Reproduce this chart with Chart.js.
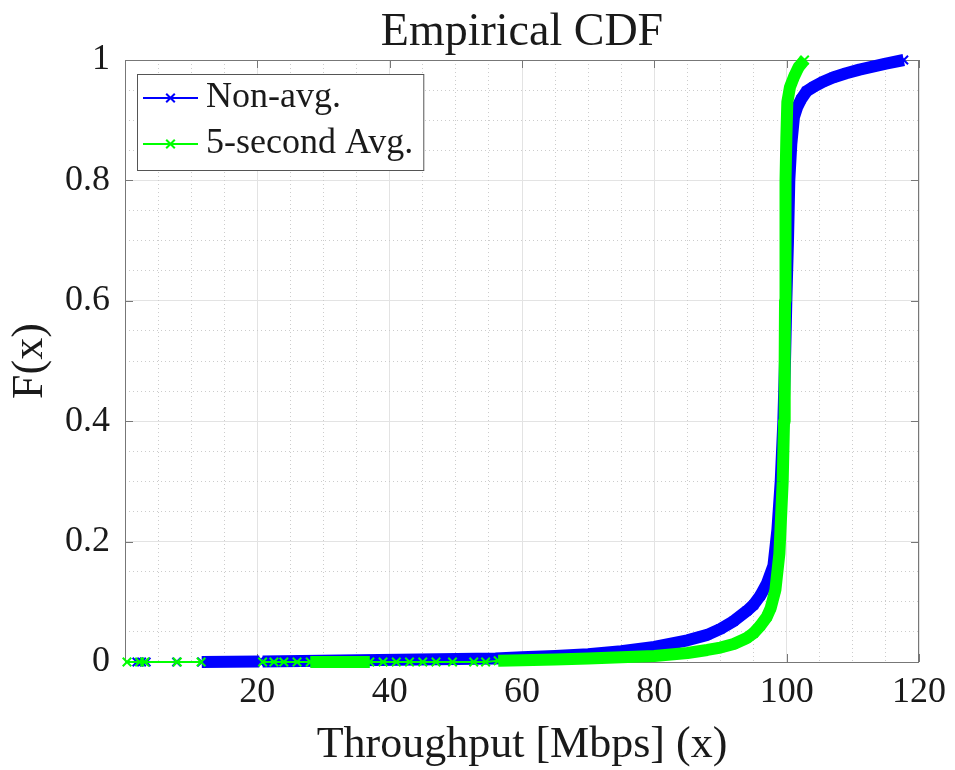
<!DOCTYPE html>
<html><head><meta charset="utf-8">
<script src="https://cdn.jsdelivr.net/npm/chart.js@4.4.1/dist/chart.umd.min.js"></script>
<style>html,body{margin:0;padding:0;background:#fff}canvas{display:block}</style>
</head><body>
<canvas id="c" width="955" height="770"></canvas>
<script>
// ---------- data ----------
const chartTitle = 'Empirical CDF';
const xAxisTitle = 'Throughput [Mbps] (x)';
const yAxisTitle = 'F(x)';
const seriesNames = ['Non-avg.', '5-second Avg.'];
const xTickValues = [20, 40, 60, 80, 100, 120];
const yTickValues = [0, 0.2, 0.4, 0.6, 0.8, 1];
const yTickLabels = ['0', '0.2', '0.4', '0.6', '0.8', '1'];

const nonAvgX = [1.8, 2.5, 3.2, 7.8, 11.6, 20.3, 20.8, 56, 60, 65, 70, 75, 80, 85, 88, 90, 92, 94, 95, 96, 97, 98, 98.6, 99.1, 99.5, 99.75, 99.95, 100.2, 100.4, 100.7, 101.1, 101.6, 102.2, 103, 104, 105.5, 107, 109, 111, 113, 115, 117.7];
const nonAvgY = [0, 0, 0, 0, 0, 0.001, 0.001, 0.006, 0.008, 0.01, 0.013, 0.018, 0.025, 0.036, 0.045, 0.055, 0.068, 0.085, 0.095, 0.11, 0.13, 0.16, 0.22, 0.3, 0.4, 0.5, 0.6, 0.7, 0.8, 0.86, 0.905, 0.922, 0.935, 0.948, 0.955, 0.964, 0.971, 0.978, 0.984, 0.989, 0.994, 1.0];
const nonAvgDenseRuns = [[11.6, 20.3], [20.8, 117.7]];
const nonAvgGaps = [];

const avgX = [0.3, 2.2, 3.0, 7.9, 11.5, 20.8, 22.5, 24, 26, 28, 37, 39, 41, 43, 45, 47, 49.5, 52.7, 54.5, 56.4, 60, 65, 70, 75, 80, 85, 88, 90, 92, 94, 95, 96, 97, 97.6, 98.3, 98.9, 99.4, 99.6, 99.7, 99.75, 99.8, 99.85, 99.95, 100.1, 100.5, 101.1, 101.8, 102.7];
const avgY = [0, 0, 0, 0, 0, 0, 0, 0, 0, 0, 0, 0, 0, 0, 0, 0, 0, 0, 0, 0.002, 0.003, 0.004, 0.006, 0.008, 0.01, 0.015, 0.02, 0.024, 0.03, 0.04, 0.048, 0.06, 0.075, 0.09, 0.12, 0.18, 0.3, 0.4, 0.5, 0.6, 0.7, 0.8, 0.87, 0.93, 0.955, 0.972, 0.988, 1.0];
const avgDenseRuns = [[28, 37], [56.4, 102.7]];
const avgGaps = [[11.5, 20.8]];

// ---------- style ----------
const FONT = "'Liberation Serif', 'Times New Roman', serif";
const BLUE = 'rgb(0,0,255)';
const GREEN = 'rgb(0,255,0)';
const BAND = 12, THIN = 2;
const AXIS_COLOR = '#777777';
const TEXT_COLOR = '#1a1a1a';

function toPoints(xs, ys) { return xs.map((x, i) => ({ x: x, y: ys[i] })); }
function inRuns(a, b, runs) { return runs.some(r => a >= r[0] - 1e-9 && b <= r[1] + 1e-9); }
function segStyle(dense, gaps, color) {
  return {
    borderWidth: c => inRuns(c.p0.parsed.x, c.p1.parsed.x, dense) ? BAND : THIN,
    borderColor: c => inRuns(c.p0.parsed.x, c.p1.parsed.x, gaps) ? 'rgba(0,0,0,0)' : color
  };
}

const bgPlugin = {
  id: 'bg',
  beforeDraw(chart) {
    const ctx = chart.ctx;
    ctx.save(); ctx.fillStyle = '#fff'; ctx.fillRect(0, 0, chart.width, chart.height); ctx.restore();
  }
};

const titlePlugin = {
  id: 'centeredTitle',
  afterDraw(chart) {
    const { ctx, chartArea: a } = chart;
    ctx.save();
    ctx.font = '46px ' + FONT;
    ctx.fillStyle = TEXT_COLOR;
    ctx.textAlign = 'center'; ctx.textBaseline = 'alphabetic';
    ctx.fillText(chartTitle, (a.left + a.right) / 2, 45);
    ctx.restore();
  }
};

const boxPlugin = {
  id: 'box',
  beforeDatasetsDraw(chart) {
    const { ctx, chartArea: a, scales } = chart;
    ctx.save();
    ctx.strokeStyle = AXIS_COLOR; ctx.lineWidth = 1;
    ctx.strokeRect(a.left + 0.5, a.top + 0.5, a.right - a.left - 1, a.bottom - a.top);
    const L = 8;
    ctx.beginPath();
    xTickValues.forEach(v => {
      const px = Math.round(scales.x.getPixelForValue(v)) + 0.5;
      ctx.moveTo(px, a.bottom); ctx.lineTo(px, a.bottom - L);
      ctx.moveTo(px, a.top); ctx.lineTo(px, a.top + L);
    });
    yTickValues.forEach(v => {
      const py = Math.round(scales.y.getPixelForValue(v)) + 0.5;
      ctx.moveTo(a.left, py); ctx.lineTo(a.left + L, py);
      ctx.moveTo(a.right, py); ctx.lineTo(a.right - L, py);
    });
    ctx.stroke();
    ctx.restore();
  }
};

const legendPlugin = {
  id: 'matlabLegend',
  afterDatasetsDraw(chart) {
    const { ctx, chartArea: a } = chart;
    ctx.save();
    ctx.font = '36px ' + FONT;
    const bx = a.left + 12, by = a.top + 14;
    const textX = bx + 69;
    const widths = seriesNames.map(n => ctx.measureText(n).width);
    const bw = 69 + Math.max(...widths) + 10;
    const bh = 96;
    ctx.fillStyle = '#fff';
    ctx.fillRect(bx, by, bw, bh);
    ctx.strokeStyle = '#555'; ctx.lineWidth = 1;
    ctx.strokeRect(bx + 0.5, by + 0.5, bw, bh);
    const colors = [BLUE, GREEN];
    const rows = [by + 24, by + 70];
    seriesNames.forEach((n, i) => {
      const y = rows[i];
      ctx.strokeStyle = colors[i]; ctx.lineWidth = 2;
      ctx.beginPath(); ctx.moveTo(bx + 6, y); ctx.lineTo(bx + 61, y); ctx.stroke();
      const cx = bx + 33.5, r = 4.3;
      ctx.beginPath();
      ctx.moveTo(cx - r, y - r); ctx.lineTo(cx + r, y + r);
      ctx.moveTo(cx - r, y + r); ctx.lineTo(cx + r, y - r);
      ctx.stroke();
      ctx.fillStyle = TEXT_COLOR;
      ctx.textBaseline = 'middle'; ctx.textAlign = 'left';
      ctx.fillText(n, textX, y);
    });
    ctx.restore();
  }
};

const minorX = []; for (let v = 5; v < 120; v += 5) if (v % 20 !== 0) minorX.push(v);
const minorY = []; for (let k = 1; k < 20; k++) if (k % 4 !== 0) minorY.push(k / 20);

new Chart(document.getElementById('c'), {
  type: 'scatter',
  data: {
    datasets: [
      {
        label: seriesNames[0], data: toPoints(nonAvgX, nonAvgY), order: 2,
        showLine: true, borderColor: BLUE, backgroundColor: BLUE, borderWidth: THIN,
        pointStyle: 'crossRot', pointRadius: 6, pointBorderWidth: 2, pointBorderColor: BLUE,
        borderCapStyle: 'butt', borderJoinStyle: 'round', tension: 0, clip: 10,
        segment: segStyle(nonAvgDenseRuns, nonAvgGaps, BLUE)
      },
      {
        label: seriesNames[1], data: toPoints(avgX, avgY), order: 1,
        showLine: true, borderColor: GREEN, backgroundColor: GREEN, borderWidth: THIN,
        pointStyle: 'crossRot', pointRadius: 6, pointBorderWidth: 2, pointBorderColor: GREEN,
        borderCapStyle: 'butt', borderJoinStyle: 'round', tension: 0, clip: 10,
        segment: segStyle(avgDenseRuns, avgGaps, GREEN)
      }
    ]
  },
  options: {
    responsive: false, animation: false, devicePixelRatio: 1,
    layout: { padding: { left: 0, right: 33, top: 60, bottom: 0 } },
    plugins: {
      legend: { display: false },
      tooltip: { enabled: false },
      title: { display: false }
    },
    scales: {
      x: {
        type: 'linear', min: 0, max: 120, position: 'bottom',
        afterBuildTicks: s => { s.ticks = xTickValues.map(v => ({ value: v })); },
        afterFit: s => { s.height = 108; },
        ticks: { color: TEXT_COLOR, font: { family: FONT, size: 36 }, padding: 9, maxRotation: 0, autoSkip: false },
        grid: { color: '#e3e3e3', lineWidth: 1, drawTicks: false },
        border: { display: false },
        title: { display: true, text: xAxisTitle, color: TEXT_COLOR, font: { family: FONT, size: 44, lineHeight: 1 }, padding: { top: 0, bottom: 3 } }
      },
      y: {
        type: 'linear', min: 0, max: 1, position: 'left',
        afterBuildTicks: s => { s.ticks = yTickValues.map(v => ({ value: v })); },
        afterFit: s => { s.width = 125; },
        ticks: { color: TEXT_COLOR, font: { family: FONT, size: 36 }, padding: 15, autoSkip: false,
          callback: (v) => { const i = yTickValues.indexOf(v); return i >= 0 ? yTickLabels[i] : ''; } },
        grid: { color: '#e3e3e3', lineWidth: 1, drawTicks: false },
        border: { display: false },
        title: { display: true, text: yAxisTitle, color: TEXT_COLOR, font: { family: FONT, size: 44, lineHeight: 1 }, padding: { top: 8, bottom: 0 } }
      },
      xMinor: {
        type: 'linear', min: 0, max: 120, position: 'bottom', display: true,
        afterBuildTicks: s => { s.ticks = minorX.map(v => ({ value: v })); },
        afterFit: s => { s.height = 0; },
        ticks: { display: false },
        grid: { color: '#cccccc', lineWidth: 1, drawTicks: false },
        border: { display: false, dash: [1, 3] }
      },
      yMinor: {
        type: 'linear', min: 0, max: 1, position: 'left', display: true,
        afterBuildTicks: s => { s.ticks = minorY.map(v => ({ value: v })); },
        afterFit: s => { s.width = 0; },
        ticks: { display: false },
        grid: { color: '#cccccc', lineWidth: 1, drawTicks: false },
        border: { display: false, dash: [1, 3] }
      }
    }
  },
  plugins: [bgPlugin, boxPlugin, legendPlugin, titlePlugin]
});
</script>
</body></html>
